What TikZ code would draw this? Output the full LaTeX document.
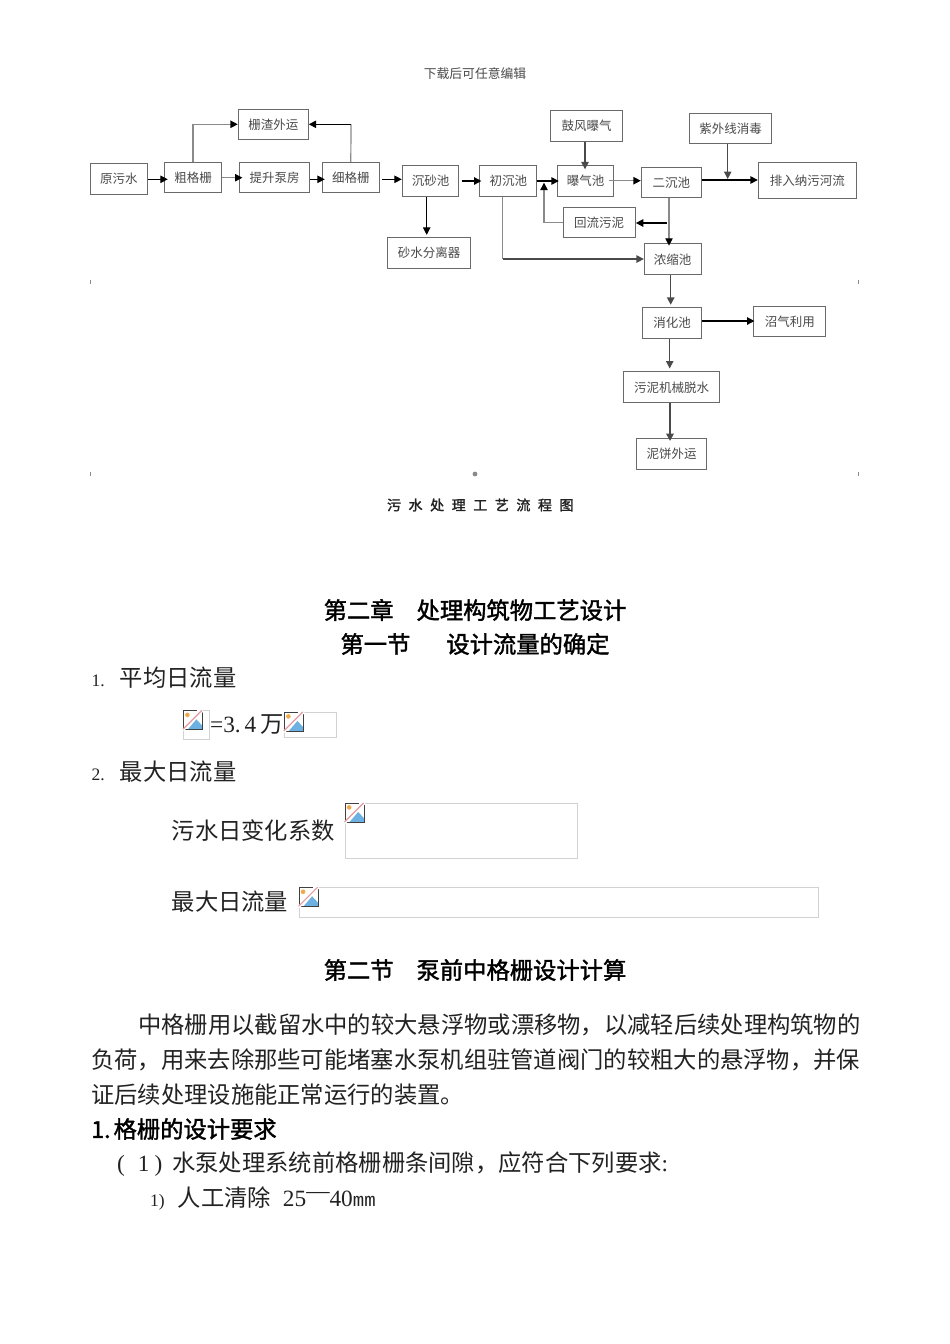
\documentclass[tikz,border=0pt]{standalone}
\usepackage{fontspec}
\usepackage{xcolor}
\usetikzlibrary{arrows.meta,positioning,calc}
\setmainfont{Liberation Serif}
\setmonofont{Liberation Mono}
\newfontfamily\cjk{Noto Sans CJK SC}
\newfontfamily\cjkbold[FakeBold=1.6]{Noto Sans CJK SC}
\newfontfamily\cjkwide[LetterSpace=54,FakeBold=1.8]{Noto Sans CJK SC}
\definecolor{BD}{HTML}{6A6A6A}
\definecolor{LB}{HTML}{4A4A4A}
\definecolor{TN}{HTML}{8A8A8A}
\definecolor{FR}{HTML}{D2D2D2}
\definecolor{SK}{HTML}{6DB1E3}
\definecolor{SN}{HTML}{F0A94A}
\definecolor{SL}{HTML}{E39AA0}
\definecolor{TX}{HTML}{222222}
\newcommand{\bodysize}{\fontsize{23.3}{28}\selectfont}
\newcommand{\numsize}{\fontsize{17.5}{20}\selectfont\rmfamily}
\tikzset{
  flowbox/.style={draw=BD, line width=1pt, inner sep=0pt, text=LB,
                  font=\fontsize{12.5}{15}\selectfont\cjk},
  flowline/.style={draw=black, line width=1pt,
                   -{Triangle[length=7.4pt,width=7.4pt]}},
  thickline/.style={flowline, line width=1.4pt},
  greyline/.style={flowline, draw=TN, line width=1.2pt, arrows={-{Triangle[length=7.4pt,width=7.4pt,color=black]}}},
  greyrun/.style={draw=TN, line width=1.2pt},
  bodytext/.style={anchor=west, inner sep=0pt, text=TX, font=\bodysize\cjk},
  headtext/.style={inner sep=0pt, text=black, font=\bodysize\cjkbold},
  picframe/.style={draw=FR, line width=.8pt, inner sep=0pt},
  edgetick/.style={draw=TN, line width=.8pt},
  brokenicon/.pic={
    \fill[white] (0,0) rectangle (19.5,19.5);
    \fill[SK] (5,19) -- (13.5,9) -- (19.5,15.5) -- (19.5,19.5) -- cycle;
    \fill[SN] (4.5,4.5) circle (2.3pt);
    \draw[black!75, line width=.9pt] (.4,.4) -- (.4,19.4) -- (19.4,19.4) -- (19.4,.4);
    \draw[black!75, line width=.9pt] (.4,.4) -- (14,.4);
    \draw[white, line width=2.4pt] (0,20) -- (20,0);
    \draw[SL, line width=1.2pt] (0,19) -- (19,0);
  }
}
\begin{document}
\begin{tikzpicture}[x=1pt,y=-1pt]
        \useasboundingbox (0,0) rectangle (950,1344);
        \fill[white] (0,0) rectangle (950,1344);
        \node[inner sep=0pt, text=LB, font=\fontsize{12.8}{16}\selectfont\cjk] (pagehead) at (475,74) {下载后可任意编辑};

        \node[flowbox, minimum width=57pt, minimum height=31pt] (yuanwushui) at (118.8,178.8) {原污水};
        \node[flowbox, minimum width=56.6pt, minimum height=30.4pt] (cugeshan) at (193,177.5) {粗格栅};
        \node[flowbox, minimum width=70.4pt, minimum height=30.4pt] (tisheng) at (274.5,177.5) {提升泵房};
        \node[flowbox, minimum width=57pt, minimum height=30.4pt] (xigeshan) at (350.8,177.5) {细格栅};
        \node[flowbox, minimum width=56.4pt, minimum height=30.6pt] (chensha) at (430.5,181) {沉砂池};
        \node[flowbox, minimum width=70pt, minimum height=30pt] (zhazha) at (273.3,124.3) {栅渣外运};
        \node[flowbox, minimum width=83.4pt, minimum height=30.7pt] (shashui) at (429,252.7) {砂水分离器};
        \node[flowbox, minimum width=56.7pt, minimum height=30.6pt] (chuchen) at (508.3,181) {初沉池};
        \node[flowbox, minimum width=56.4pt, minimum height=30.6pt] (baoqi) at (585.5,181) {曝气池};
        \node[flowbox, minimum width=60pt, minimum height=30.4pt] (erchen) at (671.3,182.5) {二沉池};
        \node[flowbox, minimum width=72pt, minimum height=30.7pt] (gufeng) at (586.7,125.7) {鼓风曝气};
        \node[flowbox, minimum width=81.6pt, minimum height=30.3pt] (ziwai) at (730.5,128.8) {紫外线消毒};
        \node[flowbox, minimum width=98pt, minimum height=35.3pt] (paiwu) at (807.3,180.6) {排入纳污河流};
        \node[flowbox, minimum width=72.3pt, minimum height=30pt] (huiliu) at (599.2,222.3) {回流污泥};
        \node[flowbox, minimum width=56.7pt, minimum height=31.3pt] (nongsuo) at (672.7,259.3) {浓缩池};
        \node[flowbox, minimum width=58.6pt, minimum height=31pt] (xiaohua) at (672,322.8) {消化池};
        \node[flowbox, minimum width=72.3pt, minimum height=30pt] (zhaoqi) at (789.8,321.7) {沼气利用};
        \node[flowbox, minimum width=96pt, minimum height=30.7pt] (tuoshui) at (671.7,387.3) {污泥机械脱水};
        \node[flowbox, minimum width=70.4pt, minimum height=30.6pt] (nibing) at (671.5,454) {泥饼外运};

        \coordinate (huiliujoin) at (544,182.7);
        \coordinate (erchenjoin) at (666.7,223);
        \coordinate (chuchenturn) at (502.7,259);
        \coordinate (ziwaiend) at (727.7,179);
        \coordinate (xigeturn) at (351,124.3);

        \draw[flowline] (yuanwushui.east |- 0,179.3) -- ([xshift=3.6pt]cugeshan.west |- 0,179.3);
        \draw[greyline] (cugeshan.east |- 0,177.7) -- ([xshift=3.6pt]tisheng.west |- 0,177.7);
        \draw[flowline] (tisheng.east |- 0,179.3) -- ([xshift=3pt]xigeshan.west |- 0,179.3);
        \draw[flowline] ([xshift=2.5pt]xigeshan.east |- 0,179.3) -- (chensha.west |- 0,179.3);
        \draw[thickline] ([xshift=2.5pt]chensha.east |- 0,181) -- ([xshift=2pt]chuchen.west |- 0,181);
        \draw[greyline] (cugeshan.north) |- (zhazha.west);
        \draw[greyrun] (xigeshan.north) -- (xigeturn);
        \draw[thickline] (xigeturn) -- (zhazha.east);
        \draw[flowline] ([xshift=-3.8pt]chensha.south) -- ([xshift=-2.3pt,yshift=2pt]shashui.north);
        \draw[thickline] (chuchen.east |- 0,181) -- ([xshift=2pt]baoqi.west |- 0,181);
        \draw[greyline] (huiliu.west) -| (huiliujoin);
        \draw[greyline] ([xshift=-5.5pt]baoqi.east |- 0,180.7) -- (erchen.west |- 0,180.7);
        \draw[thickline, draw=LB] ([xshift=-1.7pt]gufeng.south) -- ([xshift=-.5pt]baoqi.north |- 0,169.3);
        \draw[flowline, line width=.9pt, draw=LB] (ziwai.south -| ziwaiend) -- (ziwaiend);
        \draw[thickline] (erchen.east |- 0,180) -- (paiwu.west |- 0,180);
        \draw[thickline] (erchenjoin) -- (huiliu.east |- erchenjoin);
        \draw[greyline] ([xshift=-2.3pt]erchen.south) -- ([xshift=-3.7pt,yshift=-2.5pt]nongsuo.north);
        \draw[greyrun] (chuchen.south -| chuchenturn) -- (chuchenturn);
        \draw[thickline, draw=LB] (chuchenturn) -- (nongsuo.west |- chuchenturn);
        \draw[thickline, draw=LB] ([xshift=-2pt]nongsuo.south) -- ([xshift=-1.3pt,yshift=2pt]xiaohua.north);
        \draw[thickline] (xiaohua.east |- 0,321) -- ([xshift=1.3pt]zhaoqi.west |- 0,321);
        \draw[flowline, draw=LB] ([xshift=-2.3pt]xiaohua.south) -- ([xshift=-2pt,yshift=3pt]tuoshui.north);
        \draw[thickline, line width=1.8pt, draw=LB] ([xshift=-1.7pt]tuoshui.south) -- ([xshift=-1.5pt,yshift=-2.8pt]nibing.north);

        \draw[edgetick] (90.3,279.6) -- ++(0,4);
        \draw[edgetick] (858.4,279.6) -- ++(0,4);
        \draw[edgetick] (90.3,472) -- ++(0,4);
        \draw[edgetick] (858.4,472) -- ++(0,4);
        \fill[TN] (475,474) circle (2.4pt);

        \node[inner sep=0pt, text=TX, font=\fontsize{14}{16}\selectfont\cjkwide] (flowcaption) at (480.3,505) {污水处理工艺流程图};

        \node[headtext] (chaptertitle) at (475,610) {第二章\hspace{23pt}处理构筑物工艺设计};
        \node[headtext] (sectionone) at (475,644) {第一节\hspace{36pt}设计流量的确定};
        \node[bodytext] (itemone) at (91.5,678) {{\numsize 1.}\hspace{15pt}平均日流量};
        \node[picframe, minimum width=26.4pt, minimum height=28.3pt] (frameqa) at (196.5,724.9) {};
        \pic at (frameqa.north west) {brokenicon};
        \node[bodytext] (avgvalue) at (210,725) {{\rmfamily =3.\,4\,}万};
        \node[picframe, minimum width=52.4pt, minimum height=25.4pt] (frameqb) at (310.5,725) {};
        \pic at (frameqb.north west) {brokenicon};
        \node[bodytext] (itemtwo) at (91.5,772) {{\numsize 2.}\hspace{15pt}最大日流量};
        \node[bodytext] (coefflabel) at (171.5,831) {污水日变化系数};
        \node[picframe, minimum width=232.7pt, minimum height=55pt] (framekz) at (461.4,830.8) {};
        \pic at (framekz.north west) {brokenicon};
        \node[bodytext] (maxlabel) at (171.5,902) {最大日流量};
        \node[picframe, minimum width=519.4pt, minimum height=29.7pt] (frameqmax) at (558.7,902.5) {};
        \pic at (frameqmax.north west) {brokenicon};
        \node[headtext] (sectiontwo) at (475,970) {第二节\hspace{23pt}泵前中格栅设计计算};
        \node[bodytext] (paraone) at (138,1025) {中格栅用以截留水中的较大悬浮物或漂移物，以减轻后续处理构筑物的};
        \node[bodytext] (paratwo) at (91,1060) {负荷，用来去除那些可能堵塞水泵机组驻管道阀门的较粗大的悬浮物，并保};
        \node[bodytext] (parathree) at (91,1095) {证后续处理设施能正常运行的装置。};
        \node[bodytext, text=black, font=\bodysize\cjkbold] (designhead) at (91,1129) {1.\hspace{3pt}格栅的设计要求};
        \node[bodytext] (reqone) at (117,1164) {{\rmfamily (\hspace{13pt}1\hspace{5pt})}\hspace{10pt}水泵处理系统前格栅栅条间隙，应符合下列要求{\rmfamily :}};
        \node[bodytext] (reqtwo) at (150,1198) {{\numsize 1)}\hspace{13pt}人工清除\hspace{12pt}{\rmfamily 25\raisebox{8pt}{—}40{\ttfamily\fontsize{19}{20}\selectfont mm}}};
      \end{tikzpicture}
\end{document}
